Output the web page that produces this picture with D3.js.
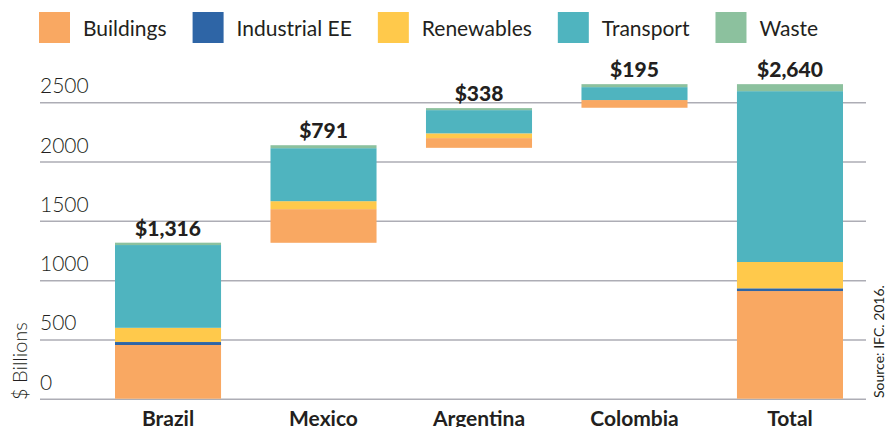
<!DOCTYPE html>
<html>
<head>
<meta charset="utf-8">
<script src="https://cdn.jsdelivr.net/npm/d3@7"></script>
<style>
  html, body { margin: 0; padding: 0; background: #ffffff; }
  svg { display: block; }
  text { font-family: Lato, "Open Sans", sans-serif; fill: #231f20; }
</style>
</head>
<body>
<svg id="chart" width="885" height="427"></svg>
<script>
// ---- Data ----
const categories = ["Brazil", "Mexico", "Argentina", "Colombia", "Total"];
const seriesNames = ["Buildings", "Industrial EE", "Renewables", "Transport", "Waste"];
const buildings  = [453, 284, 82, 65, 908];
const industrial = [25, 0, 0, 0, 23];
const renewables = [120, 67, 40, 0, 222];
const transport  = [698, 447, 196, 109, 1441];
const waste      = [20, 25, 17, 25, 59];
const barBase    = [0, 1315, 2116, 2454, 0];   // waterfall starting level of each bar
const totalLabels = ["$1,316", "$791", "$338", "$195", "$2,640"];
const yTicks = [0, 500, 1000, 1500, 2000, 2500];
const seriesColors = ["#f9a862", "#2e65a6", "#ffc94b", "#4fb4bf", "#8cc19e"];

// ---- Build table ----
const seriesValues = [buildings, industrial, renewables, transport, waste];
const table = categories.map((c, i) => {
  const row = { category: c, base: barBase[i], label: totalLabels[i] };
  seriesNames.forEach((s, j) => row[s] = seriesValues[j][i]);
  return row;
});

const svg = d3.select("#chart");

// Scales
const x = d3.scaleBand().domain(categories).range([115, 843]).paddingInner(0.318).paddingOuter(0);
const y = d3.scaleLinear().domain([0, 2500]).range([398.7, 102.3]);
const color = d3.scaleOrdinal().domain(seriesNames).range(seriesColors);

// Gridlines + tick labels (custom axis styling)
const yAxis = d3.axisRight(y).tickValues(yTicks).tickSize(826).tickFormat(d3.format("d"));
const gAxis = svg.append("g").attr("transform", "translate(40,0)").call(yAxis);
gAxis.select(".domain").remove();
gAxis.selectAll(".tick line").attr("stroke", "#adadb5").attr("stroke-width", 1.5);
gAxis.selectAll(".tick text")
  .attr("x", 0).attr("dy", -9.5)
  .attr("text-anchor", "start")
  .style("font-family", "Lato, sans-serif")
  .style("font-size", "21px")
  .style("font-weight", 300)
  .attr("fill", "#231f20");

// Stacked waterfall bars
const stack = d3.stack().keys(seriesNames);
const stacked = stack(table);
const layers = svg.append("g").selectAll("g").data(stacked).join("g")
  .attr("fill", d => color(d.key));
layers.selectAll("rect").data(d => d).join("rect")
  .attr("x", d => x(d.data.category))
  .attr("width", x.bandwidth())
  .attr("y", d => y(d.data.base + d[1]))
  .attr("height", d => Math.max(0, y(d.data.base + d[0]) - y(d.data.base + d[1])));

// Value labels on top of each bar
svg.append("g").selectAll("text").data(table).join("text")
  .attr("x", d => x(d.category) + x.bandwidth() / 2)
  .attr("y", d => y(d.base + d3.sum(seriesNames, s => d[s])) - 7)
  .attr("text-anchor", "middle")
  .style("font-size", "21px")
  .style("font-weight", 900)
  .text(d => d.label);

// Category labels
svg.append("g").selectAll("text").data(categories).join("text")
  .attr("x", d => x(d) + x.bandwidth() / 2)
  .attr("y", 425.5)
  .attr("text-anchor", "middle")
  .style("font-size", "21px")
  .style("font-weight", 700)
  .text(d => d);

// Y axis title
svg.append("text")
  .attr("transform", "translate(27,400) rotate(-90)")
  .attr("text-anchor", "start")
  .style("font-size", "20px")
  .style("font-weight", 300)
  .text("$ Billions");

// Source note
svg.append("text")
  .attr("transform", "translate(884,398) rotate(-90)")
  .attr("text-anchor", "start")
  .style("font-size", "14px")
  .style("font-weight", 400)
  .text("Source: IFC. 2016.");

// Legend (flow layout)
const legend = svg.append("g").attr("transform", "translate(39,12)");
let lx = 0;
seriesNames.forEach((name, i) => {
  const g = legend.append("g").attr("transform", `translate(${lx},0)`);
  g.append("rect").attr("width", 31).attr("height", 31).attr("fill", color(name));
  const t = g.append("text").attr("x", 44).attr("y", 24)
    .style("font-size", "21px").style("font-weight", 400).text(name);
  lx += 44 + t.node().getComputedTextLength() + 26;
});
</script>
</body>
</html>
